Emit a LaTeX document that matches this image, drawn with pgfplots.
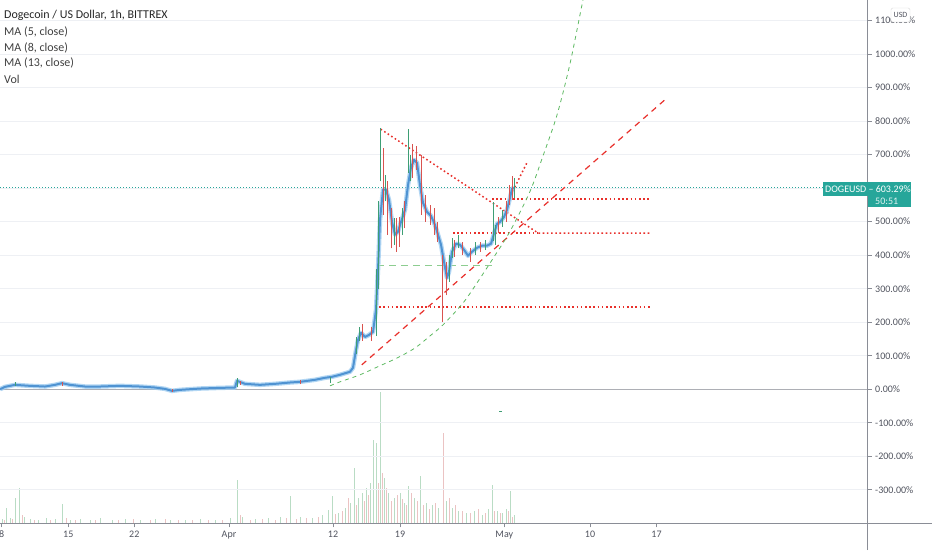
\documentclass[border=0pt]{standalone}
\usepackage{pgfplots}
\pgfplotsset{compat=1.18}
\usepackage{fontspec}
\setmainfont{Carlito}

\definecolor{tvteal}{HTML}{26A69A}
\definecolor{candred}{HTML}{D9534F}
\definecolor{candgreen}{HTML}{3E9E74}
\definecolor{linered}{HTML}{E8302B}
\definecolor{linegreen}{HTML}{5CB860}
\definecolor{gridc}{HTML}{EEF0F4}
\definecolor{axisc}{HTML}{8A8D96}
\definecolor{txt}{HTML}{50535E}
\definecolor{maA}{HTML}{9FCCF0}
\definecolor{maB}{HTML}{4F93D2}
\definecolor{volg}{HTML}{B9DCC4}
\definecolor{volr}{HTML}{EBC3C3}

\begin{document}
\begin{tikzpicture}
\path[use as bounding box] (0,0) rectangle (932pt,550pt);

% volume pane (heights in arbitrary units)
\begin{axis}[
  at={(0pt,26.7pt)}, anchor=south west,
  scale only axis, width=867.7pt, height=523.3pt,
  xmin=0, xmax=867.7, ymin=0, ymax=523.3,
  hide axis]
\addplot[ycomb, draw=volg, line width=0.8pt] coordinates {
 (2,4)(6,15)(10,5)(15,25)(19,35)(24,6)(30,4)(38,3)(46,5)(55,4)(62,19)(70,3)
 (80,4)(90,3)(100,5)(112,3)(125,4)(140,3)(155,4)(170,3)(185,3)(200,4)(215,3)
 (230,5)(237,43)(242,6)(255,4)(268,5)(280,6)(290,27)(300,6)(312,5)(322,8)
 (328,13)(332,27)(338,10)(345,15)(350,20)(354,55)(358,25)(362,30)(366,35)
 (370,40)(373,83)(376,80)(380,131)(384,45)(388,30)(394,25)(400,30)(404,20)
 (408,37)(414,25)(420,47)(426,20)(432,18)(438,15)(446,22)(452,15)(458,12)
 (466,10)(474,12)(482,8)(488,14)(492,38)(497,12)(502,10)(506,14)(510,32)(514,8)
};
\addplot[ycomb, draw=volr, line width=0.8pt] coordinates {
 (4,3)(12,4)(22,8)(34,3)(50,3)(66,5)(75,3)(95,3)(118,3)(133,4)(150,3)(165,4)
 (178,3)(192,3)(208,3)(222,3)(240,8)(250,3)(262,4)(275,3)(286,5)(296,4)(306,5)
 (318,6)(335,9)(342,12)(348,25)(356,18)(364,22)(368,28)(378,40)(382,50)(386,35)
 (391,22)(397,28)(402,24)(406,18)(411,30)(417,22)(423,18)(429,14)(435,20)
 (443,90)(449,25)(455,18)(462,12)(470,10)(478,14)(485,10)(494,12)(500,10)
 (508,12)(512,6)
};
\end{axis}

% price pane, percent scale
\begin{axis}[
  at={(0pt,26.7pt)}, anchor=south west,
  scale only axis, width=867.7pt, height=523.3pt,
  xmin=0, xmax=867.7, ymin=-400, ymax=1161,
  axis line style={draw=none},
  xtick pos=lower, ytick pos=upper, yticklabel pos=upper,
  tick align=outside, major tick length=4pt,
  tick style={color=axisc, line width=0.6pt},
  xtick={1.7,68.3,134.3,229,333,400,504.3,590,656.5},
  xticklabels={8,15,22,Apr,12,19,May,10,17},
  ytick={-300,-200,...,1100},
  yticklabels={-300.00\%,-200.00\%,-100.00\%,0.00\%,100.00\%,200.00\%,300.00\%,400.00\%,500.00\%,,700.00\%,800.00\%,900.00\%,1000.00\%,1100.00\%},
  ticklabel style={font=\fontsize{10}{12}\selectfont, text=txt},
  ymajorgrids, major grid style={color=gridc, line width=0.8pt},
  unbounded coords=jump,
  ]
% zero line
\addplot[draw=axisc!70, line width=0.8pt] coordinates {(0,0) (867.7,0)};
% last price line
\addplot[draw=tvteal, dash pattern=on 1.2pt off 1.8pt, line width=0.9pt] coordinates {(0,603.29) (867.7,603.29)};

% drawings
\addplot[draw=linegreen!70, dash pattern=on 7pt off 5pt, line width=0.9pt] coordinates {(377,368) (493,368)};
\addplot[draw=linered, dash pattern=on 1.6pt off 2.6pt, line width=1.5pt] coordinates {(380.7,775.7) (538.3,465.4) (650,465.4)};
\addplot[draw=linered, dash pattern=on 1.6pt off 2.6pt, line width=1.5pt] coordinates {(453,465.4) (538.3,465.4)};
\addplot[draw=linered, dash pattern=on 1.6pt off 2.6pt, line width=1.5pt] coordinates {(492,566.8) (650,566.8)};
\addplot[draw=linered, dash pattern=on 1.6pt off 2.6pt, line width=1.5pt] coordinates {(375,244.6) (650,244.6)};
\addplot[draw=linered, dash pattern=on 1.6pt off 2.6pt, line width=1.5pt] coordinates {(511,580) (527,676)};
\addplot[draw=linered, dash pattern=on 6pt off 5pt, line width=1.2pt] coordinates {(361.7,72.5) (666.7,868)};
\addplot[draw=linegreen, dash pattern=on 4pt off 4pt, line width=0.8pt, smooth] coordinates {
 (330,10)(340,22)(360,43)(380,70)(397,93)(415,123)(430,159)(443,192)(463,257)
 (477,317)(493,390)(510,471)(530,590)(543,696)(557,818)(570,971)(583,1161)(586,1191)};

% moving averages
\addplot[draw=maA, line width=4.5pt, opacity=0.8, line join=round] coordinates {
 (0,0)(5,7)(15,13)(30,10)(45,8)(55,13)(62,18)(70,13)(85,8)(100,8)(120,10)(140,8)
 (155,5)(165,1)(172,-5)(180,-2)(200,2)(220,4)(235,5)(237,25)(245,16)(260,13)
 (275,16)(290,20)(300,22)(315,28)(325,34)(332,37)(340,43)(350,52)(353,64)
 (356,117)(358,147)(361,168)(365,156)(369,162)(373,171)(376,237)(378,356)
 (380,505)(383,595)(386,595)(389,565)(392,499)(395,461)(398,470)(401,499)
 (405,535)(408,609)(411,661)(414,684)(417,675)(420,609)(423,556)(427,529)
 (431,517)(435,490)(438,461)(441,431)(444,380)(447,332)(449,350)(452,410)
 (456,434)(460,431)(464,416)(468,398)(472,410)(477,422)(482,428)(487,428)
 (491,434)(494,464)(497,493)(500,499)(504,514)(507,535)(510,571)(512,598)(514,601)};
\addplot[draw=maB, line width=2pt, line join=round] coordinates {
 (0,0)(5,7)(15,13)(30,10)(45,8)(55,13)(62,18)(70,13)(85,8)(100,8)(120,10)(140,8)
 (155,5)(165,1)(172,-5)(180,-2)(200,2)(220,4)(235,5)(237,25)(245,16)(260,13)
 (275,16)(290,20)(300,22)(315,28)(325,34)(332,37)(340,43)(350,52)(353,64)
 (356,117)(358,147)(361,168)(365,156)(369,162)(373,171)(376,237)(378,356)
 (380,505)(383,595)(386,595)(389,565)(392,499)(395,461)(398,470)(401,499)
 (405,535)(408,609)(411,661)(414,684)(417,675)(420,609)(423,556)(427,529)
 (431,517)(435,490)(438,461)(441,431)(444,380)(447,332)(449,350)(452,410)
 (456,434)(460,431)(464,416)(468,398)(472,410)(477,422)(482,428)(487,428)
 (491,434)(494,464)(497,493)(500,499)(504,514)(507,535)(510,571)(512,598)(514,601)};

% candles: low-high wicks, one segment per candle
\addplot[draw=candred, line width=0.9pt] coordinates {
 (62,9)(62,21)(62,nan) (172,-7)(172,1)(172,nan) (240,12)(240,24)(240,nan)
 (300,17)(300,27)(300,nan) (362,145)(362,195)(362,nan) (371,145)(371,185)(371,nan)
 (383,520)(383,720)(383,nan) (387,460)(387,620)(387,nan) (391,420)(391,540)(391,nan)
 (396,410)(396,510)(396,nan) (399,425)(399,515)(399,nan) (404,480)(404,560)(404,nan)
 (412,630)(412,730)(412,nan) (416,655)(416,725)(416,nan) (421,520)(421,700)(421,nan)
 (425,500)(425,580)(425,nan) (430,490)(430,550)(430,nan) (434,460)(434,540)(434,nan)
 (437,440)(437,500)(437,nan) (442,200)(442,400)(442,nan) (446,280)(446,380)(446,nan)
 (454,395)(454,445)(454,nan) (462,400)(462,440)(462,nan) (470,380)(470,420)(470,nan)
 (480,410)(480,440)(480,nan) (498,465)(498,515)(498,nan) (506,500)(506,560)(506,nan)
 (509,550)(509,610)(509,nan) (512,565)(512,635)};
\addplot[draw=candgreen, line width=0.9pt] coordinates {
 (15,9)(15,21)(15,nan) (237,8)(237,32)(237,nan) (330,20)(330,36)(330,nan)
 (356,105)(356,155)(356,nan) (359,145)(359,185)(359,nan) (376,160)(376,360)(376,nan)
 (378,300)(378,560)(378,nan) (380.7,620)(380.7,780)(380.7,nan) (385,560)(385,640)(385,nan)
 (394,430)(394,510)(394,nan) (402,460)(402,540)(402,nan) (408,645)(408,775)(408,nan)
 (410,620)(410,700)(410,nan) (449,320)(449,400)(449,nan) (452,390)(452,450)(452,nan)
 (458,420)(458,460)(458,nan) (475,400)(475,440)(475,nan) (485,415)(485,445)(485,nan)
 (493,442)(493,558)(493,nan) (495,430)(495,490)(495,nan) (502,485)(502,535)(502,nan)
 (514,570)(514,630)};
\addplot[draw=candgreen, line width=0.8pt] coordinates {(499,-65) (502,-65)};
\end{axis}

% pane borders
\draw[axisc, line width=0.8pt] (0,26.7pt) -- (932pt,26.7pt);
\draw[axisc, line width=0.8pt] (867.7pt,0) -- (867.7pt,550pt);

% legend block
\begin{scope}[every node/.style={anchor=west, inner sep=0pt, font=\fontsize{12}{14}\selectfont}]
\node[text=black!85] at (4pt,535pt) {Dogecoin / US Dollar, 1h, BITTREX};
\node[text=black!75] at (4pt,518pt) {MA (5, close)};
\node[text=black!75] at (4pt,502pt) {MA (8, close)};
\node[text=black!75] at (4pt,487pt) {MA (13, close)};
\node[text=black!75] at (4pt,471pt) {Vol};
\end{scope}

% last price label
\fill[tvteal] (822.7pt,354pt) rectangle (911pt,368.3pt);
\fill[tvteal] (868pt,342.7pt) rectangle (911pt,354pt);
\node[text=white, anchor=west, inner sep=0pt, font=\fontsize{10}{12}\selectfont] at (825pt,361.2pt) {DOGEUSD – 603.29\%};
\node[text=white!85!tvteal, anchor=west, inner sep=0pt, font=\fontsize{10}{12}\selectfont] at (875pt,348.3pt) {50:51};

% currency box
\draw[fill=white, draw=black!15, rounded corners=1.5pt] (891pt,528pt) rectangle (910pt,542pt);
\node[text=txt, font=\fontsize{8}{10}\selectfont, inner sep=0pt] at (900.5pt,535pt) {USD};
\end{tikzpicture}
\end{document}
